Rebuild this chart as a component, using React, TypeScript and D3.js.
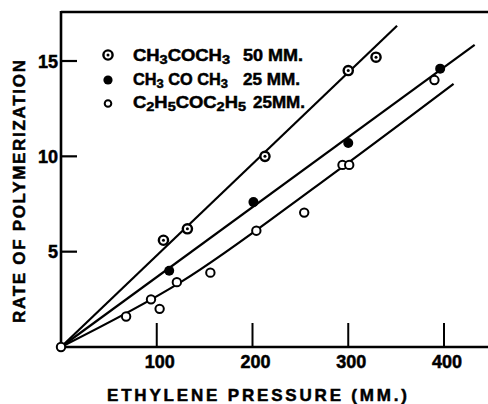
import React from 'react';
import * as d3 from 'd3';

// ---- data ----
const xTickValues = [100, 200, 300, 400];
const yTickValues = [5, 10, 15];

const acetone50X = [107, 132, 213, 300, 329];
const acetone50Y = [5.6, 6.2, 10.0, 14.5, 15.2];

const acetone25X = [113, 201, 300, 396];
const acetone25Y = [4.0, 7.6, 10.7, 14.6];

const dekX = [0, 68, 94, 103, 121, 156, 204, 254, 294, 301, 390];
const dekY = [0, 1.6, 2.5, 2.0, 3.4, 3.9, 6.1, 7.05, 9.55, 9.55, 14.0];

const fit50X = [0, 351];
const fit50Y = [0, 16.85];
const fit25X = [0, 432];
const fit25Y = [0, 15.85];
const fitDekX = [0, 125, 270, 410];
const fitDekY = [0, 3.4, 8.56, 13.8];

const FONT = '"Liberation Sans", Arial, sans-serif';

export default function App() {
  const W = 488, H = 404;
  const x = d3.scaleLinear().domain([0, 400]).range([61, 444]);
  const y = d3.scaleLinear().domain([0, 15]).range([347, 61]);
  const frameTop = 12;
  const frameRight = 500;

  const line = d3.line<[number, number]>().x(d => x(d[0])).y(d => y(d[1]));
  const curve = d3.line<[number, number]>().x(d => x(d[0])).y(d => y(d[1])).curve(d3.curveMonotoneX);
  const zip = (a: number[], b: number[]) => a.map((v, i) => [v, b[i]] as [number, number]);

  const sym50 = (cx: number, cy: number, k: string) => (
    <g key={k}>
      <circle cx={cx} cy={cy} r={4.6} fill="#fff" stroke="#000" strokeWidth={2.4} />
      <circle cx={cx} cy={cy} r={1.5} fill="#000" />
    </g>
  );
  const sym25 = (cx: number, cy: number, k: string, r = 5) => (
    <circle key={k} cx={cx} cy={cy} r={r} fill="#000" />
  );
  const symDek = (cx: number, cy: number, k: string, r = 4.2) => (
    <circle key={k} cx={cx} cy={cy} r={r} fill="#fff" stroke="#000" strokeWidth={2} />
  );

  const sub = (t: string) => (
    <tspan dy={3} fontSize={13}>{t}</tspan>
  );

  const textStyle = { fontFamily: FONT, fontWeight: 'bold' as const, stroke: '#000', strokeWidth: 0.5 };

  return (
    <svg width={W} height={H} style={{ position: 'absolute', left: 0, top: 0, background: '#fff' }}>
      <rect x={0} y={0} width={W} height={H} fill="#fff" />
      {/* frame */}
      <line x1={x(0)} x2={frameRight} y1={frameTop} y2={frameTop} stroke="#000" strokeWidth={2.5} />
      <line x1={x(0)} x2={x(0)} y1={frameTop - 1} y2={y(0) + 1} stroke="#000" strokeWidth={2.6} />
      <line x1={x(0)} x2={frameRight} y1={y(0)} y2={y(0)} stroke="#000" strokeWidth={2.6} />

      {/* ticks */}
      {yTickValues.map(v => (
        <g key={'yt' + v}>
          <line x1={x(0)} x2={x(0) + 16} y1={y(v)} y2={y(v)} stroke="#000" strokeWidth={2.2} />
          <text x={58} y={y(v) + 6.5} textAnchor="end" fontSize={18} style={textStyle}>{v}</text>
        </g>
      ))}
      {xTickValues.map(v => (
        <g key={'xt' + v}>
          <line x1={x(v)} x2={x(v)} y1={y(0)} y2={y(0) - 24} stroke="#000" strokeWidth={2} />
          <text x={x(v) + 3} y={368} textAnchor="middle" fontSize={18} style={textStyle}>{v}</text>
        </g>
      ))}

      {/* axis titles */}
      <text x={107} y={401} fontSize={17} style={textStyle}
        textLength={300} lengthAdjust="spacing">ETHYLENE  PRESSURE  (MM.)</text>
      <text transform="translate(25,323) rotate(-90)" fontSize={17} style={textStyle}
        textLength={263} lengthAdjust="spacing">RATE OF POLYMERIZATION</text>

      {/* fitted lines */}
      <path d={line(zip(fit50X, fit50Y)) || ''} fill="none" stroke="#000" strokeWidth={2.2} />
      <path d={line(zip(fit25X, fit25Y)) || ''} fill="none" stroke="#000" strokeWidth={2.2} />
      <path d={curve(zip(fitDekX, fitDekY)) || ''} fill="none" stroke="#000" strokeWidth={2.2} />

      {/* points */}
      {dekX.map((v, i) => symDek(x(v), y(dekY[i]), 'd' + i))}
      {acetone25X.map((v, i) => sym25(x(v), y(acetone25Y[i]), 'b' + i))}
      {acetone50X.map((v, i) => sym50(x(v), y(acetone50Y[i]), 'a' + i))}

      {/* legend */}
      {sym50(108, 55, 'l1')}
      {sym25(108, 80, 'l2', 4.6)}
      {symDek(108, 103.5, 'l3', 3.3)}
      <g fontSize={16.5} style={textStyle}>
        <text x={133} y={61} textLength={97} lengthAdjust="spacingAndGlyphs">CH{sub('3')}<tspan dy={-3}>COCH</tspan>{sub('3')}</text>
        <text x={243} y={61} textLength={60} lengthAdjust="spacingAndGlyphs">50 MM.</text>
        <text x={133} y={85} textLength={95} lengthAdjust="spacingAndGlyphs">CH{sub('3')}<tspan dy={-3}> CO CH</tspan>{sub('3')}</text>
        <text x={243} y={85} textLength={57} lengthAdjust="spacingAndGlyphs">25 MM.</text>
        <text x={133} y={108} textLength={113} lengthAdjust="spacingAndGlyphs">C{sub('2')}<tspan dy={-3}>H</tspan>{sub('5')}<tspan dy={-3}>COC</tspan>{sub('2')}<tspan dy={-3}>H</tspan>{sub('5')}</text>
        <text x={253} y={108} textLength={52} lengthAdjust="spacingAndGlyphs">25MM.</text>
      </g>
    </svg>
  );
}
